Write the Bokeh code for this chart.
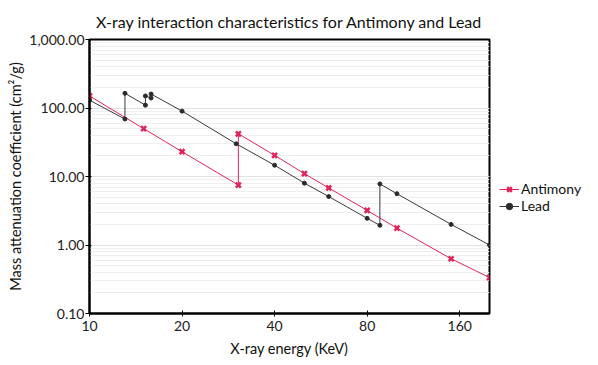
from bokeh.plotting import figure
from bokeh.layouts import row
from bokeh.models import (FixedTicker, NumeralTickFormatter, Legend, LegendItem,
                          LogTicker, ColumnDataSource, Range1d)
from bokeh.embed import file_html
from bokeh.resources import INLINE

# ---- data ----
sb_energy = [10, 15, 20, 30.49, 30.49, 40, 50, 60, 80, 100, 150, 200]
sb_mu = [150, 50, 23, 7.5, 42, 20.4, 11, 6.8, 3.2, 1.76, 0.63, 0.335]

pb_energy = [10, 13.04, 13.04, 15.2, 15.2, 15.86, 15.86, 20, 30, 40, 50, 60, 80, 88, 88, 100, 150, 200]
pb_mu = [130, 69, 164, 110, 150, 140, 160, 90, 30, 14.6, 8.0, 5.1, 2.45, 1.94, 7.8, 5.6, 2.0, 1.0]

x_ticks = [10, 20, 40, 80, 160]
series_names = ["Antimony", "Lead"]

FONT = "Lato"
RED = "#e0245a"
DARK = "#3a3a3a"

p = figure(width=496, height=359, x_axis_type="log", y_axis_type="log",
           x_range=(10, 200), y_range=(0.1, 1000),
           output_backend="svg", toolbar_location=None,
           title="X-ray interaction characteristics for Antimony and Lead",
           x_axis_label="X-ray energy (KeV)",
           y_axis_label="Mass attenuation coefficient (cm\u00b2/g)",
           min_border_left=89, min_border_right=7, min_border_top=36,
           min_border_bottom=44)

p.title.align = "center"
p.title.text_font = FONT
p.title.text_font_size = "16px"
p.title.text_font_style = "normal"
p.title.text_color = "#111111"
p.title.standoff = 18

p.outline_line_color = "black"
p.outline_line_width = 2

# axes
for ax in (p.xaxis[0], p.yaxis[0]):
    ax.axis_line_width = 2
    ax.axis_line_color = "black"
    ax.major_tick_line_color = "black"
    ax.major_tick_line_width = 1
    ax.minor_tick_line_color = None
    ax.major_label_text_font = FONT
    ax.major_label_text_font_size = "14px"
    ax.major_label_text_color = "#222222"
    ax.axis_label_text_font = FONT
    ax.axis_label_text_font_size = "14.5px"
    ax.axis_label_text_font_style = "normal"
    ax.axis_label_text_color = "#111111"

p.xaxis.ticker = FixedTicker(ticks=x_ticks)
p.xaxis.formatter = NumeralTickFormatter(format="0")
p.xaxis.major_tick_in = 3
p.xaxis.major_tick_out = 3
p.xaxis.axis_label_standoff = 6
p.xaxis.major_label_standoff = 4

p.yaxis.ticker = LogTicker(mantissas=[1], num_minor_ticks=10)
p.yaxis.formatter = NumeralTickFormatter(format="0,0.00")
p.yaxis.major_tick_in = 2
p.yaxis.major_tick_out = 4
p.yaxis.axis_label_standoff = 2
p.yaxis.major_label_standoff = 1

# grid
p.xgrid.grid_line_color = None
p.ygrid.grid_line_color = "#e2e2e2"
p.ygrid.minor_grid_line_color = "#efefef"

# series
p.line(sb_energy, sb_mu, line_color=RED, line_width=1)
p.scatter(sb_energy, sb_mu, marker="x", size=7, line_color=RED, line_width=2.5)
p.line(pb_energy, pb_mu, line_color=DARK, line_width=1)
p.scatter(pb_energy, pb_mu, marker="circle", size=4, fill_color="#2a2a2a",
          line_color="#2a2a2a")

# legend panel (separate small figure to the right of the plot)
lg = figure(width=86, height=359, output_backend="svg", toolbar_location=None,
            x_axis_location=None, y_axis_location=None, min_border=0,
            outline_line_color=None, x_range=Range1d(0, 1), y_range=Range1d(0, 1))
lg.xgrid.visible = False
lg.ygrid.visible = False
hidden = ColumnDataSource(data=dict(x=[-5, -4], y=[-5, -4]))
l1 = lg.line("x", "y", source=hidden, line_color=RED, line_width=1)
m1 = lg.scatter("x", "y", source=hidden, marker="x", size=7, line_color=RED,
                line_width=2.5)
l2 = lg.line("x", "y", source=hidden, line_color=DARK, line_width=1)
m2 = lg.scatter("x", "y", source=hidden, marker="circle", size=4,
                fill_color="#2a2a2a", line_color="#2a2a2a")

legend = Legend(items=[LegendItem(label=series_names[0], renderers=[l1, m1]),
                       LegendItem(label=series_names[1], renderers=[l2, m2])],
                location=(3, 99))
legend.border_line_color = None
legend.background_fill_alpha = 0
legend.padding = 0
legend.margin = 0
legend.spacing = 0
legend.glyph_width = 20
legend.glyph_height = 16
legend.label_height = 15
legend.label_standoff = 2
legend.label_text_font = FONT
legend.label_text_font_size = "14px"
legend.label_text_color = "#111111"
lg.add_layout(legend, "center")

layout = row(p, lg)
open("out.html", "w").write(file_html(layout, INLINE))
